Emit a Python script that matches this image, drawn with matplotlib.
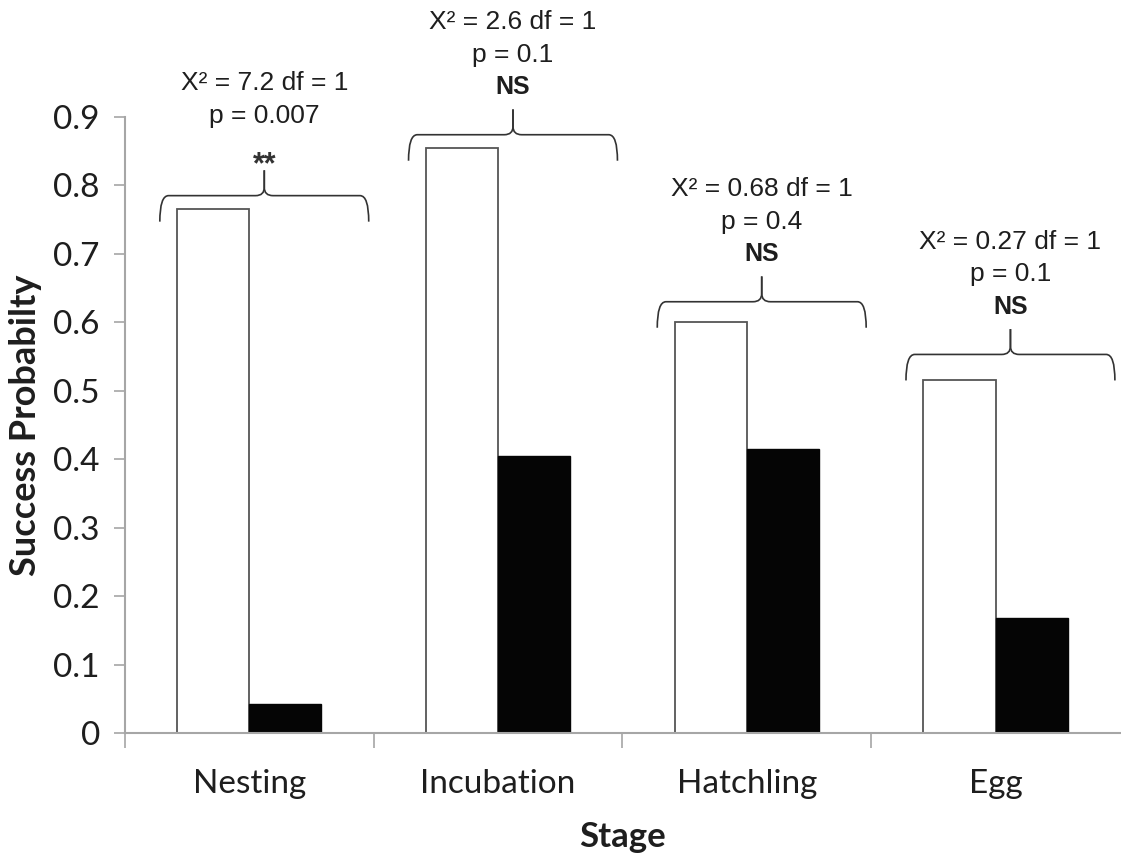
import matplotlib.pyplot as plt
import numpy as np
from matplotlib.path import Path
from matplotlib.patches import PathPatch

# data
stages = ["Nesting", "Incubation", "Hatchling", "Egg"]
group_a = [0.765, 0.855, 0.600, 0.515]   # white bars
group_b = [0.042, 0.405, 0.415, 0.168]   # black bars
chi_lines = ["X\u00b2 = 7.2 df = 1", "X\u00b2 = 2.6 df = 1",
             "X\u00b2 = 0.68 df = 1", "X\u00b2 = 0.27 df = 1"]
p_lines = ["p = 0.007", "p = 0.1", "p = 0.4", "p = 0.1"]
sig_marks = ["**", "NS", "NS", "NS"]
brace_y = [0.785, 0.874, 0.630, 0.553]

calib = ['Lato', 'DejaVu Sans']
arial = ['Liberation Sans', 'DejaVu Sans']
axcol = '#a6a6a6'
txtcol = '#1e1e1e'


def draw_brace(ax, xc, y, half=0.42, drop=0.038, rise=0.037):
    rx, ry = 0.035, 0.012
    for s in (-1, 1):
        x0 = xc + s * half
        verts = [(x0, y - drop), (x0, y), (x0 - s * rx, y),
                 (xc + s * rx, y), (xc, y), (xc, y + ry), (xc, y + rise)]
        codes = [Path.MOVETO, Path.CURVE3, Path.CURVE3, Path.LINETO,
                 Path.CURVE3, Path.CURVE3, Path.LINETO]
        ax.add_patch(PathPatch(Path(verts, codes), fill=False, lw=1.2,
                               edgecolor='#333333', clip_on=False))


fig = plt.figure(figsize=(11.21, 8.61), dpi=100)
ax = fig.add_axes([0.1115, 0.1487, 0.8875, 0.7155])

x = np.arange(len(stages))
w = 0.29
ax.bar(x - w / 2, group_a, w, color='white', edgecolor='#555555', linewidth=1.3)
ax.bar(x + w / 2, group_b, w, color='#050505', edgecolor='#050505', linewidth=1.0)

ax.set_xlim(-0.5, 3.5)
ax.set_ylim(0, 0.9)
ax.set_yticks(np.arange(0, 0.91, 0.1))
ax.set_yticklabels(['0'] + [f"{v:.1f}" for v in np.arange(0.1, 0.91, 0.1)],
                   family=calib, fontsize=24, color=txtcol)
ax.set_xticks(x)
ax.set_xticklabels(stages, family=calib, fontsize=24, color=txtcol)
ax.set_xticks(np.arange(-0.5, 3.0, 1.0), minor=True)
ax.tick_params(axis='x', which='major', length=0, pad=26)
ax.tick_params(axis='x', which='minor', length=11, width=1.2, color=axcol, direction='out')
ax.tick_params(axis='y', length=8, width=1.2, color=axcol, direction='out', pad=10)

for side in ('top', 'right'):
    ax.spines[side].set_visible(False)
for side in ('left', 'bottom'):
    ax.spines[side].set_color(axcol)
    ax.spines[side].set_linewidth(1.5)

ax.set_ylabel("Success Probabilty", family=calib, fontsize=26, fontweight='bold',
              color=txtcol, labelpad=8)
ax.set_xlabel("Stage", family=calib, fontsize=25, fontweight='bold',
              color=txtcol, labelpad=16)

for i in range(len(stages)):
    xc = x[i] + 0.06
    yb = brace_y[i]
    draw_brace(ax, xc, yb)
    ax.text(xc, yb + 0.165, chi_lines[i], ha='center', va='center', family=arial,
            fontsize=19, color=txtcol, clip_on=False)
    ax.text(xc, yb + 0.117, p_lines[i], ha='center', va='center', family=arial,
            fontsize=19, color=txtcol, clip_on=False)
    if sig_marks[i] == "**":
        ax.text(xc, yb + 0.045, sig_marks[i], ha='center', va='center', family=arial,
                fontsize=22, fontweight='bold', color='#333333', clip_on=False)
    else:
        ax.text(xc, yb + 0.07, sig_marks[i], ha='center', va='center', family=arial,
                fontsize=18, fontweight='bold', color=txtcol, clip_on=False)

fig.savefig("out.png", dpi=100)
